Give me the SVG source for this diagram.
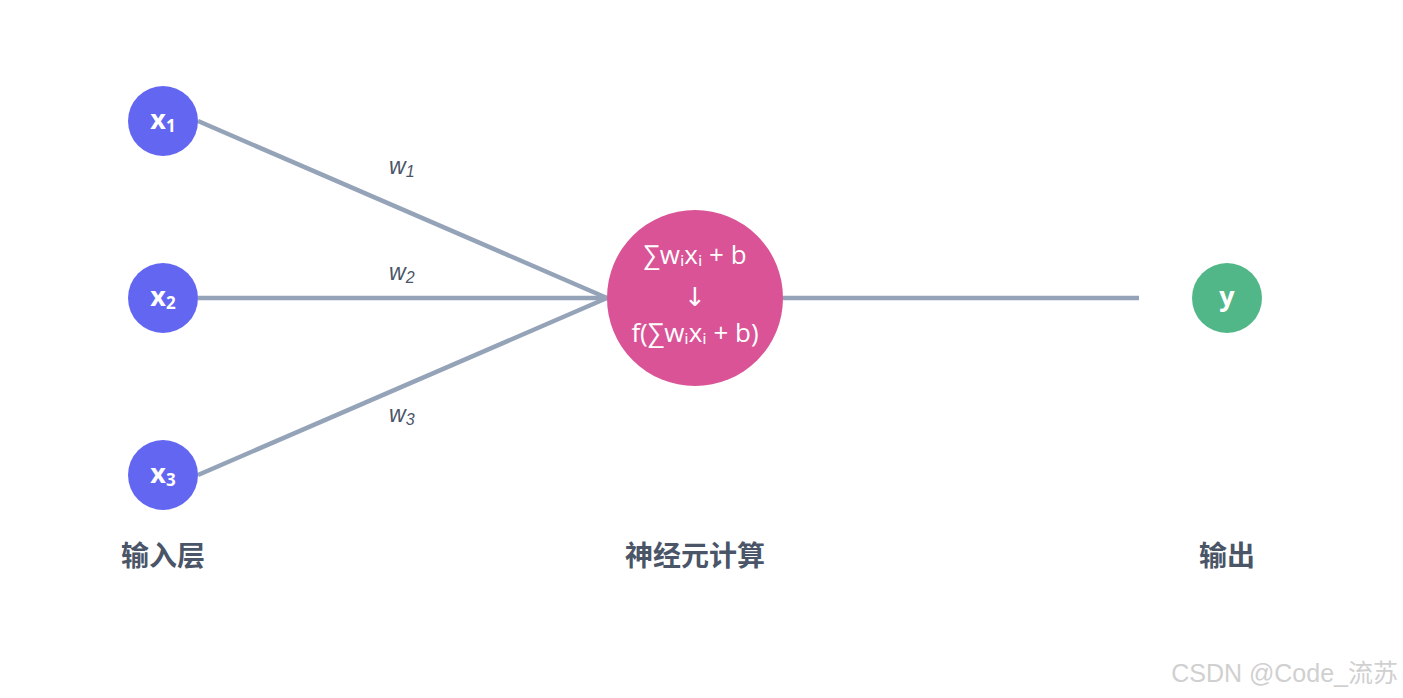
<svg xmlns="http://www.w3.org/2000/svg" width="1403" height="698" viewBox="0 0 1403 698">
<style>
.edge{stroke:#94a3b8;stroke-width:4.5;fill:none;stroke-linecap:butt}
.in{fill:#6366f1}
.nodeT{fill:#fff;font-family:"Open Sans","Noto Sans",sans-serif;font-weight:bold;font-size:27px;text-anchor:middle}
.sub{font-size:17px}
.w{fill:#4a5568;font-family:"Liberation Sans",Arial,sans-serif;font-style:italic;font-size:23px}
.ws{font-size:16px}
.calc{fill:#fff;font-family:"Open Sans","Noto Sans",sans-serif;font-size:26px;text-anchor:middle}
.arr{fill:#fff;font-family:"DejaVu Sans",sans-serif;font-size:26px;text-anchor:middle}
.lbl{fill:#4a5568;font-family:"Noto Sans CJK SC",sans-serif;font-weight:bold;font-size:28px;text-anchor:middle}
</style>
<rect width="1403" height="698" fill="#fff"/>
<g id="connectors">
<line class="edge" x1="198" y1="121" x2="607" y2="298"/>
<line class="edge" x1="198" y1="298" x2="607" y2="298"/>
<line class="edge" x1="198" y1="475" x2="607" y2="298"/>
<line class="edge" x1="783" y1="298" x2="1139" y2="298"/>
<text class="w" x="389" y="174">w<tspan class="ws" dy="3">1</tspan></text>
<text class="w" x="389" y="280">w<tspan class="ws" dy="3">2</tspan></text>
<text class="w" x="389" y="422">w<tspan class="ws" dy="3">3</tspan></text>
</g>
<g id="x1"><circle class="in" cx="163" cy="121" r="35"/><text class="nodeT" x="163" y="129">x<tspan class="sub" dy="3">1</tspan></text></g>
<g id="x2"><circle class="in" cx="163" cy="298" r="35"/><text class="nodeT" x="163" y="306">x<tspan class="sub" dy="3">2</tspan></text></g>
<g id="x3"><circle class="in" cx="163" cy="475" r="35"/><text class="nodeT" x="163" y="483">x<tspan class="sub" dy="3">3</tspan></text></g>
<g id="neuron">
<circle cx="695" cy="298" r="88" fill="#d95396"/>
<text class="calc" x="695" y="264">∑wᵢxᵢ + b</text>
<text class="arr" x="695" y="306">↓</text>
<text class="calc" x="695" y="342">f(∑wᵢxᵢ + b)</text>
</g>
<g id="y"><circle cx="1227" cy="298" r="35" fill="#52b788"/><text class="nodeT" x="1227" y="306">y</text></g>
<g id="labels">
<text class="lbl" x="163" y="566">输入层</text>
<text class="lbl" x="695" y="566">神经元计算</text>
<text class="lbl" x="1227" y="566">输出</text>
</g>
<text x="1398" y="682" text-anchor="end" font-family="Liberation Sans,'Noto Sans CJK SC',sans-serif" font-size="25" fill="#d0d0d0">CSDN @Code_流苏</text>
</svg>
